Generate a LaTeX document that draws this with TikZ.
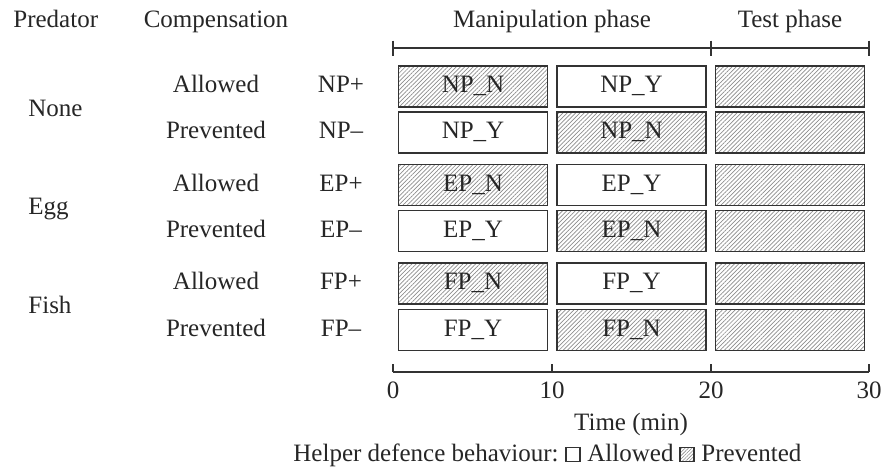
\documentclass[tikz,border=0pt]{standalone}
\usepackage{fontspec}
\setmainfont{Liberation Serif}
\usetikzlibrary{positioning, patterns.meta}
\definecolor{framegray}{HTML}{333333}
\definecolor{hatchgray}{HTML}{8C8C8C}

\begin{document}
\begin{tikzpicture}[
    x=0.5pt, y=-0.5pt,
    font=\fontsize{12.5}{15}\selectfont,
    every node/.style={inner sep=0pt, text=black!85},
    cell/.style={
      draw=framegray,
      line width=0.7pt,
      minimum width=74.5pt,
      minimum height=20.5pt,
      text height=8.5pt,
      text depth=2.5pt,
    },
    open/.style={cell, fill=white},
    hatched/.style={cell, pattern={Lines[angle=45, distance=1.5pt, line width=0.35pt]}, pattern color=hatchgray},
    keyopen/.style={draw=framegray, line width=0.6pt, minimum size=7pt},
    keyhatched/.style={keyopen, pattern={Lines[angle=45, distance=1.2pt, line width=0.3pt]}, pattern color=hatchgray},
    scale line/.style={draw=framegray, line width=0.6pt},
  ]
  \useasboundingbox (0,0) rectangle (882,468);

  % headers
  \node[anchor=base west] (predator) at (13,27) {Predator};
  \node[anchor=base] (compensation) at (216,27) {Compensation};
  \node[anchor=base] (manip) at (552,27) {Manipulation phase};
  \node[anchor=base] (test) at (790,27) {Test phase};

  % phase bracket
  \coordinate (m0) at (393,48);
  \coordinate (m20) at (711,48);
  \coordinate (m30) at (869,48);
  \draw[scale line] (m0) -- (m30);
  \draw[scale line] (m0) ++(0,-7.5) -- ++(0,15);
  \draw[scale line] (m20) ++(0,-7.5) -- ++(0,15);
  \draw[scale line] (m30) ++(0,-7.5) -- ++(0,15);

  % predator
  \node[anchor=base west] (none) at (28,116) {None};
  \node[anchor=base west] (egg) at (28,214.5) {Egg};
  \node[anchor=base west] (fish) at (28,313) {Fish};

  % compensation
  \node[anchor=base] (np-comp) at (216,92.5) {Allowed};
  \node[anchor=base] (nm-comp) at (216,138.5) {Prevented};
  \node[anchor=base] (ep-comp) at (216,191) {Allowed};
  \node[anchor=base] (em-comp) at (216,237) {Prevented};
  \node[anchor=base] (fp-comp) at (216,289.5) {Allowed};
  \node[anchor=base] (fm-comp) at (216,336) {Prevented};

  % treatment codes
  \node[anchor=base] (np-code) at (341,92.5) {NP+};
  \node[anchor=base] (nm-code) at (341,138.5) {NP\textendash};
  \node[anchor=base] (ep-code) at (341,191) {EP+};
  \node[anchor=base] (em-code) at (341,237) {EP\textendash};
  \node[anchor=base] (fp-code) at (341,289.5) {FP+};
  \node[anchor=base] (fm-code) at (341,336) {FP\textendash};

  % trials
  \node[hatched] (np-a) at (473,86.5) {NP\_N};
  \node[open] (np-b) at (631.5,86.5) {NP\_Y};
  \node[hatched] (np-c) at (790,86.5) {};
  \node[open] (nm-a) at (473,132.5) {NP\_Y};
  \node[hatched] (nm-b) at (631.5,132.5) {NP\_N};
  \node[hatched] (nm-c) at (790,132.5) {};
  \node[hatched] (ep-a) at (473,185) {EP\_N};
  \node[open] (ep-b) at (631.5,185) {EP\_Y};
  \node[hatched] (ep-c) at (790,185) {};
  \node[open] (em-a) at (473,231) {EP\_Y};
  \node[hatched] (em-b) at (631.5,231) {EP\_N};
  \node[hatched] (em-c) at (790,231) {};
  \node[hatched] (fp-a) at (473,283.5) {FP\_N};
  \node[open] (fp-b) at (631.5,283.5) {FP\_Y};
  \node[hatched] (fp-c) at (790,283.5) {};
  \node[open] (fm-a) at (473,330) {FP\_Y};
  \node[hatched] (fm-b) at (631.5,330) {FP\_N};
  \node[hatched] (fm-c) at (790,330) {};

  % time axis
  \coordinate (t0) at (393,372);
  \coordinate (t10) at (552,372);
  \coordinate (t20) at (711,372);
  \coordinate (t30) at (869,372);
  \draw[scale line] (t0) -- (t30);
  \draw[scale line] (t0) -- ++(0,-8.5);
  \draw[scale line] (t10) -- ++(0,-8.5);
  \draw[scale line] (t20) -- ++(0,-8.5);
  \draw[scale line] (t30) -- ++(0,-8.5);
  \node[anchor=base] (l0) at (393,398) {0};
  \node[anchor=base] (l10) at (552,398) {10};
  \node[anchor=base] (l20) at (711,398) {20};
  \node[anchor=base] (l30) at (869,398) {30};
  \node[anchor=base] (time) at (631,430) {Time (min)};

  % legend
  \node[anchor=base west] (legend) at (293,461) {Helper defence behaviour:};
  \node[keyopen] (allowkey) at (573,454.5) {};
  \node[anchor=base west] (allowtxt) at (587,461) {Allowed};
  \node[keyhatched] (prevkey) at (687,454.5) {};
  \node[anchor=base west] (prevtxt) at (701,461) {Prevented};
\end{tikzpicture}
\end{document}
